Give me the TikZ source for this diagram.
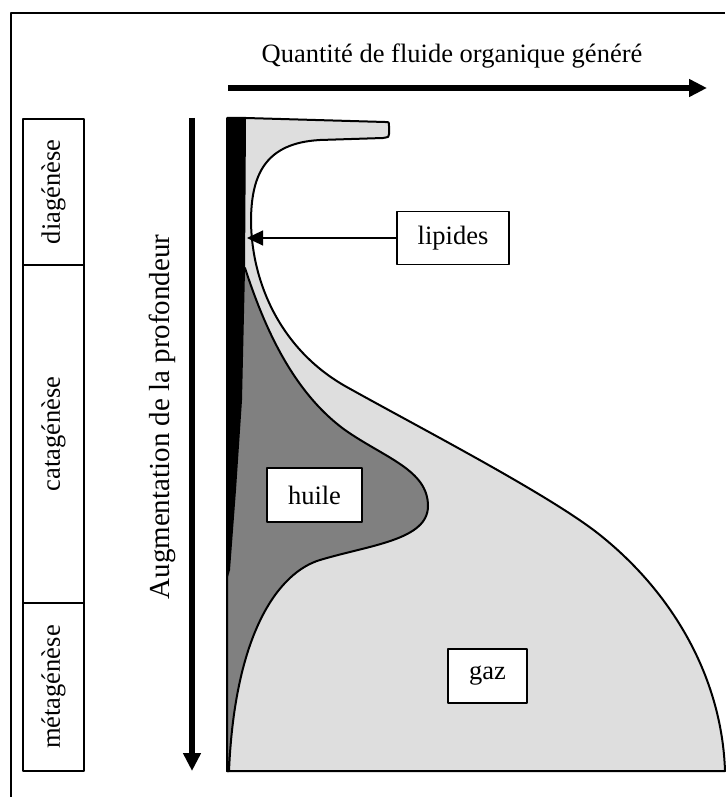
\documentclass[tikz,border=0pt]{standalone}
\usepackage{fontspec}
\setmainfont{Liberation Serif}
\usetikzlibrary{arrows.meta,positioning}
\definecolor{gasgray}{gray}{0.87}
\definecolor{oilgray}{gray}{0.5}

\begin{document}
\begin{tikzpicture}[x=1pt, y=-1pt, line join=round, stage node/.style={draw,line width=1.8pt,rotate=90,minimum height=61pt,inner sep=0pt}, box node/.style={draw,line width=1.8pt,fill=white,inner sep=0pt}, big arrow/.style={line width=6pt,-{Triangle[length=18pt,width=17pt]}}]
\useasboundingbox (0,0) rectangle (725,797);
\draw[line width=1.8pt] (11,797) -- (11,13) -- (725,13);

% zones
\fill[gasgray,draw=black,line width=2pt] (227,118) -- (246,118) -- (385,122) .. controls (389,122) .. (389,126) -- (389,134) .. controls (389,137) .. (383,138) -- (320,140) .. controls (265,143) and (251,175) .. (251,222) .. controls (252,285) and (282,350) .. (345,386) .. controls (420,428) and (550,495) .. (600,535) .. controls (675,595) and (722,680) .. (725,771) -- (227,771) -- cycle;
\fill[oilgray,draw=black,line width=2pt] (227,268) -- (245,268) .. controls (262,320) and (290,390) .. (345,430) .. controls (385,458) and (428,470) .. (428,506) .. controls (428,540) and (370,545) .. (320,560) .. controls (280,572) and (235,630) .. (229,771) -- (227,771) -- cycle;
\fill[black] (227,118) -- (246,118) -- (245,270) -- (242,400) -- (236,490) -- (230,570) -- (227,580) -- cycle;
\draw[line width=2.2pt] (227,771) -- (725,771);

\begin{scope}[every node/.style={font=\fontsize{26.5}{30}\selectfont}]
\node[stage node,minimum width=146pt] (diag) at (53.5,192) {diagénèse};
\node[stage node,minimum width=338pt] (cata) at (53.5,434) {catagénèse};
\node[stage node,minimum width=168pt] (meta) at (53.5,687) {métagénèse};
\node[box node,minimum width=112pt,minimum height=53pt] (lipides) at (453,238) {lipides};
\node[box node,minimum width=95pt,minimum height=54pt] (huile) at (314.5,495) {huile};
\node[box node,minimum width=79pt,minimum height=54pt] (gaz) at (487.5,676) {gaz};
\node (quantite) at (452,56) {Quantité de fluide organique généré};
\end{scope}
\node[rotate=90,font=\fontsize{29}{32}\selectfont] (profondeur) at (162,417) {Augmentation de la profondeur};

\coordinate (qstart) at (228,88);
\coordinate (qend) at (707,88);
\coordinate (pstart) at (192,118);
\coordinate (pend) at (192,771);
\coordinate (lipidbar) at (247,238);
\draw[big arrow] (qstart) -- (qend);
\draw[big arrow] (pstart) -- (pend);
\draw[line width=1.2pt,-{Triangle[length=16pt,width=15pt]}] (lipides.west) -- (lipidbar);
\end{tikzpicture}
\end{document}
